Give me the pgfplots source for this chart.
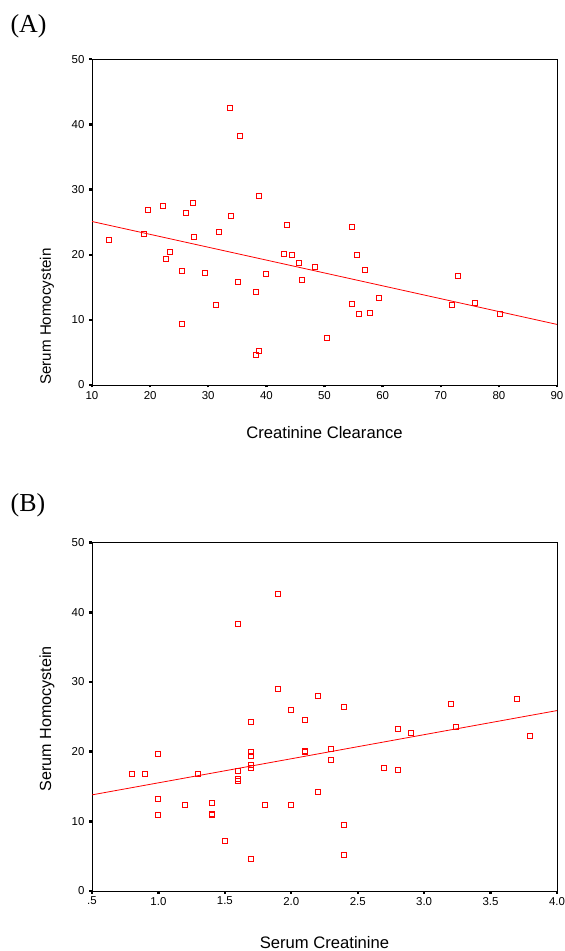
\documentclass[border=0pt]{standalone}
\usepackage{fontspec}
\setmainfont{Liberation Sans}
\newfontfamily\serif{Liberation Serif}
\usepackage{pgfplots}
\pgfplotsset{compat=1.18}

\pgfplotsset{
  spss/.style={
    scale only axis,
    width=465bp,
    ymin=0, ymax=50,
    ytick={0,10,...,50},
    axis line style={black, line width=0.9bp},
    tick align=outside,
    major tick length=2.5bp,
    tick style={black, line width=2.4bp},
    xtick pos=bottom, ytick pos=left,
    /pgf/number format/assume math mode=true,
    ticklabel style={font=\fontsize{11.5}{13}\selectfont},
    yticklabel style={xshift=-1.5bp},
    xlabel style={anchor=base, font=\fontsize{16.7}{20}\selectfont},
    ylabel style={anchor=center},
  },
  pts/.style={only marks, mark=square, mark size=2.5bp, red,
    mark options={line width=1bp, fill=none}},
  fit/.style={red, line width=0.8bp, no marks},
}

\begin{document}
\begin{tikzpicture}
\useasboundingbox (0,0) rectangle (565bp,951bp);

\node[font=\serif\fontsize{26}{30}\selectfont] at (28.5bp,924.5bp) {(A)};
\node[font=\serif\fontsize{26}{30}\selectfont] at (28bp,446bp) {(B)};

% (A) creatinine clearance
\begin{axis}[spss,
  at={(92bp,566bp)}, anchor=south west,
  height=325.7bp,
  xmin=10, xmax=90,
  xtick={10,20,...,90},
  xlabel={Creatinine Clearance},
  ylabel={Serum Homocystein},
  xlabel style={at={(axis description cs:0.5,-0.1658)}},
  ylabel style={at={(axis description cs:-0.0968,0.21)},
    font=\fontsize{15.2}{18}\selectfont},
]
\addplot[pts] coordinates {
 (33.7,42.5) (35.4,38.2) (19.6,26.8) (22.3,27.5) (26.2,26.4) (27.4,28.0)
 (34.0,26.0) (38.7,29.0) (12.9,22.2) (19.0,23.2) (27.6,22.7) (31.9,23.5)
 (23.5,20.4) (22.7,19.4) (25.5,17.5) (29.4,17.2) (35.2,15.8) (38.3,14.3)
 (40.0,17.1) (31.3,12.3) (25.4,9.4) (38.3,4.65) (38.7,5.2) (43.1,20.1)
 (44.4,19.9) (43.5,24.5) (45.6,18.7) (48.3,18.1) (46.2,16.1) (50.4,7.2)
 (54.8,24.2) (55.6,19.9) (56.9,17.6) (59.3,13.3) (54.8,12.4) (55.9,10.9)
 (57.9,11.1) (71.9,12.3) (72.9,16.7) (75.9,12.6) (80.2,10.95)
};
\addplot[fit] coordinates {(10,25.1) (90,9.3)};
\end{axis}

% (B) serum creatinine
\begin{axis}[spss,
  at={(92bp,60bp)}, anchor=south west,
  height=348.3bp,
  xmin=0.5, xmax=4.0,
  xtick={0.5,1.0,...,4.0},
  xticklabels={.5,1.0,1.5,2.0,2.5,3.0,3.5,4.0},
  xlabel={Serum Creatinine},
  ylabel={Serum Homocystein},
  xlabel style={at={(axis description cs:0.5,-0.1637)}},
  ylabel style={at={(axis description cs:-0.0968,0.494)},
    font=\fontsize{16.2}{19}\selectfont},
]
\addplot[pts] coordinates {
 (1.9,42.6) (1.6,38.3) (1.9,29.0) (2.0,26.0) (2.2,28.0) (2.4,26.4)
 (3.2,26.9) (3.7,27.5) (2.1,24.5) (0.8,16.75) (0.9,16.75) (1.0,19.6)
 (1.0,13.25) (1.0,10.95) (1.2,12.3) (1.3,16.8) (1.4,12.6) (1.4,11.1)
 (1.4,10.9) (1.5,7.2) (1.6,17.2) (1.6,16.1) (1.6,15.8) (1.7,24.2)
 (1.7,19.9) (1.7,19.4) (1.7,18.1) (1.7,17.6) (1.7,4.65) (1.8,12.3)
 (2.0,12.4) (2.1,20.1) (2.1,19.9) (2.3,20.4) (2.3,18.75) (2.2,14.25)
 (2.4,9.47) (2.4,5.17) (2.7,17.6) (2.8,17.3) (2.8,23.25) (2.9,22.7)
 (3.24,23.6) (3.8,22.25)
};
\addplot[fit] coordinates {(0.5,13.8) (4.0,25.9)};
\end{axis}
\end{tikzpicture}
\end{document}
